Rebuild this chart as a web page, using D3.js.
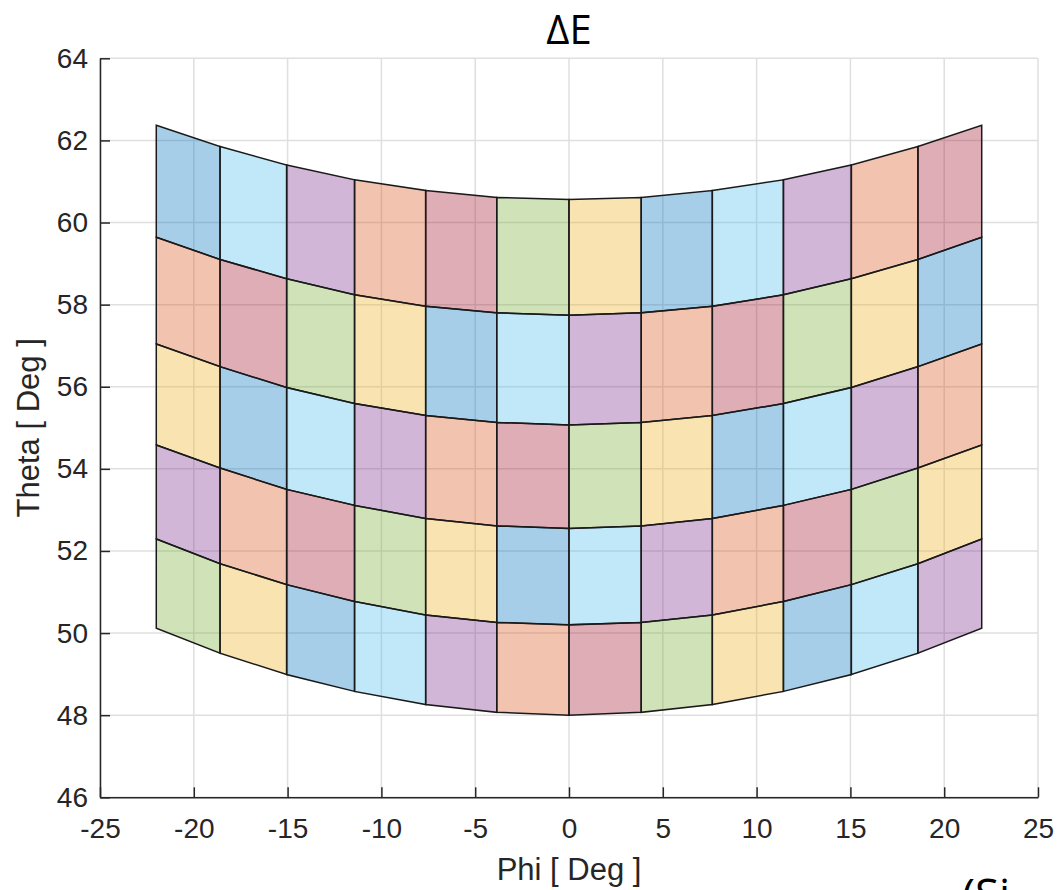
<!DOCTYPE html>
<html>
<head>
<meta charset="utf-8">
<script src="https://cdn.jsdelivr.net/npm/d3@7"></script>
<style>
  html, body { margin: 0; padding: 0; background: #ffffff; }
  svg { display: block; }
</style>
</head>
<body>
<svg id="chart" width="1059" height="890"></svg>
<script>
// ---- data ----
const phiEdges = [-22, -18.6, -15.05, -11.43, -7.64, -3.85, 0, 3.85, 7.64, 11.43, 15.05, 18.6, 22];
const thetaEdge0 = [62.37, 61.85, 61.40, 61.04, 60.78, 60.61, 60.56, 60.61, 60.78, 61.04, 61.40, 61.85, 62.37];
const thetaEdge1 = [59.64, 59.10, 58.63, 58.24, 57.96, 57.80, 57.74, 57.80, 57.96, 58.24, 58.63, 59.10, 59.64];
const thetaEdge2 = [57.04, 56.49, 55.98, 55.59, 55.30, 55.13, 55.07, 55.13, 55.30, 55.59, 55.98, 56.49, 57.04];
const thetaEdge3 = [54.58, 54.02, 53.50, 53.11, 52.79, 52.61, 52.55, 52.61, 52.79, 53.11, 53.50, 54.02, 54.58];
const thetaEdge4 = [52.29, 51.69, 51.18, 50.77, 50.44, 50.26, 50.20, 50.26, 50.44, 50.77, 51.18, 51.69, 52.29];
const thetaEdge5 = [50.12, 49.51, 48.99, 48.58, 48.26, 48.07, 48.00, 48.07, 48.26, 48.58, 48.99, 49.51, 50.12];
const thetaEdges = [thetaEdge0, thetaEdge1, thetaEdge2, thetaEdge3, thetaEdge4, thetaEdge5];
const cellColors = ["#0072BD", "#D95319", "#EDB120", "#7E2F8E", "#77AC30", "#4DBEEE", "#A2142F"];
const xTicks = [-25, -20, -15, -10, -5, 0, 5, 10, 15, 20, 25];
const yTicks = [46, 48, 50, 52, 54, 56, 58, 60, 62, 64];
const titleText = "ΔE";
const xLabel = "Phi [ Deg ]";
const yLabel = "Theta [ Deg ]";
const cornerText = "(Si";

// ---- layout ----
const svg = d3.select("#chart");
const pL = 100, pR = 1038, pT = 58.3, pB = 797.3;
const x = d3.scaleLinear().domain([-25, 25]).range([pL, pR]);
const y = d3.scaleLinear().domain([46, 64]).range([pB, pT]);
const axisColor = "#262626";
const tickFont = "'Liberation Sans', Arial, Helvetica, sans-serif";

// grid
const grid = svg.append("g");
grid.selectAll("line.gx").data(xTicks).join("line")
  .attr("x1", d => x(d)).attr("x2", d => x(d))
  .attr("y1", pT).attr("y2", pB)
  .attr("stroke", "#dfdfdf").attr("stroke-width", 1.5);
grid.selectAll("line.gy").data(yTicks).join("line")
  .attr("y1", d => y(d)).attr("y2", d => y(d))
  .attr("x1", pL).attr("x2", pR)
  .attr("stroke", "#dfdfdf").attr("stroke-width", 1.5);

// cells
const cells = [];
for (let r = 0; r < thetaEdges.length - 1; r++) {
  for (let c = 0; c < phiEdges.length - 1; c++) {
    cells.push({
      pts: [
        [phiEdges[c], thetaEdges[r][c]],
        [phiEdges[c + 1], thetaEdges[r][c + 1]],
        [phiEdges[c + 1], thetaEdges[r + 1][c + 1]],
        [phiEdges[c], thetaEdges[r + 1][c]]
      ],
      color: cellColors[(c * (thetaEdges.length - 1) + r) % cellColors.length]
    });
  }
}
svg.append("g").selectAll("path").data(cells).join("path")
  .attr("d", d => "M" + d.pts.map(p => [x(p[0]), y(p[1])].join(",")).join("L") + "Z")
  .attr("fill", d => d.color)
  .attr("fill-opacity", 0.35)
  .attr("stroke", "#1a1a1a")
  .attr("stroke-width", 1.5)
  .attr("stroke-linejoin", "miter");

// axes
const xAxis = d3.axisBottom(x).tickValues(xTicks).tickFormat(d => String(d))
  .tickSizeInner(-10).tickSizeOuter(0).tickPadding(21);
const yAxis = d3.axisLeft(y).tickValues(yTicks).tickFormat(d => String(d))
  .tickSizeInner(-10).tickSizeOuter(0).tickPadding(12);

const gx = svg.append("g").attr("transform", `translate(0,${pB})`).call(xAxis);
const gy = svg.append("g").attr("transform", `translate(${pL},0)`).call(yAxis);
[gx, gy].forEach(g => {
  g.select(".domain").attr("stroke", axisColor).attr("stroke-width", 1.5);
  g.selectAll(".tick line").attr("stroke", axisColor).attr("stroke-width", 1.5);
  g.selectAll(".tick text").attr("fill", axisColor)
    .style("font-family", tickFont).style("font-size", "28px");
});

// labels
svg.append("text")
  .attr("x", (pL + pR) / 2).attr("y", 880)
  .attr("text-anchor", "middle")
  .attr("fill", axisColor)
  .style("font-family", tickFont).style("font-size", "31px")
  .text(xLabel);
svg.append("text")
  .attr("transform", `translate(39,${(pT + pB) / 2}) rotate(-90)`)
  .attr("text-anchor", "middle")
  .attr("fill", axisColor)
  .style("font-family", tickFont).style("font-size", "31px")
  .text(yLabel);
svg.append("text")
  .attr("x", (pL + pR) / 2).attr("y", 44)
  .attr("text-anchor", "middle")
  .attr("fill", "#000")
  .style("font-family", "'Open Sans', 'Noto Sans', sans-serif").style("font-size", "40px")
  .text(titleText);
svg.append("text")
  .attr("x", 962).attr("y", 910)
  .attr("fill", "#000")
  .style("font-family", "'Open Sans', 'Noto Sans', sans-serif").style("font-size", "44px")
  .text(cornerText);
</script>
</body>
</html>
